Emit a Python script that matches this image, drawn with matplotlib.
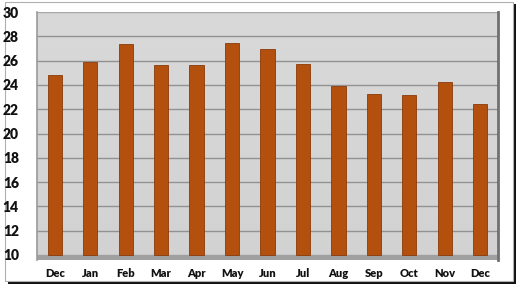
import matplotlib
matplotlib.use("Agg")
import matplotlib.pyplot as plt
import numpy as np
from matplotlib.patches import Rectangle

months = ["Dec", "Jan", "Feb", "Mar", "Apr", "May", "Jun", "Jul", "Aug", "Sep", "Oct", "Nov", "Dec"]
values = [24.8, 25.9, 27.35, 25.6, 25.6, 27.45, 26.95, 25.7, 23.95, 23.25, 23.2, 24.2, 22.4]
yticks = [10, 12, 14, 16, 18, 20, 22, 24, 26, 28, 30]

W, H = 521, 290
fig = plt.figure(figsize=(W / 100, H / 100), dpi=100)
fig.patch.set_facecolor("white")

# outer frame with shadow
fig.add_artist(Rectangle((8 / W, 1 - 284 / H), 508 / W, 280 / H, transform=fig.transFigure,
                         facecolor="#111111", edgecolor="none", zorder=0))
fig.add_artist(Rectangle((5 / W, 1 - 281 / H), 508 / W, 279 / H, transform=fig.transFigure,
                         facecolor="white", edgecolor="#b0b0b0", linewidth=0.8, zorder=0.5))

ax = fig.add_axes([37 / W, 1 - 260 / H, (498 - 37) / W, (260 - 12) / H])
ax.set_zorder(2)
x = np.arange(len(months))
ax.set_xlim(-0.5, len(months) - 0.5)
floor = 10 - 5 / 12.15
ax.set_ylim(floor, 30)

# background gradient
grad = np.linspace(0, 1, 100).reshape(-1, 1)
ax.imshow(grad, extent=(-0.5, len(months) - 0.5, floor, 30), aspect="auto",
          cmap=matplotlib.colors.LinearSegmentedColormap.from_list("g", ["#d9d9d9", "#d2d2d2"]),
          origin="upper", zorder=0)
# floor strip
ax.axhspan(floor, 10, color="#a0a0a0", zorder=1)

for yt in yticks[1:-1]:
    ax.axhline(yt, color="#929292", linewidth=1.0, zorder=1)
ax.axhline(30, color="#a8a8a8", linewidth=1.0, zorder=1)

ax.bar(x, [v - 10 for v in values], bottom=10, width=0.4, color="#b4500e",
       edgecolor="#8a3a08", linewidth=0.6, zorder=3)

for s in ["top", "bottom"]:
    ax.spines[s].set_visible(False)
ax.spines["left"].set_color("#9a9a9a")
ax.spines["left"].set_linewidth(1.2)
ax.spines["right"].set_color("#707070")
ax.spines["right"].set_linewidth(2.0)

ax.set_yticks(yticks)
ax.set_yticklabels([str(t) for t in yticks], fontsize=10, fontweight="heavy",
                   family="Lato", color="#111111")
ax.set_xticks(x)
ax.set_xticklabels(months, fontsize=8, fontweight="heavy", family="Lato", color="#111111")
ax.tick_params(axis="both", length=0)
ax.tick_params(axis="y", pad=13)
ax.tick_params(axis="x", pad=6)

fig.savefig("out.png", dpi=100)
